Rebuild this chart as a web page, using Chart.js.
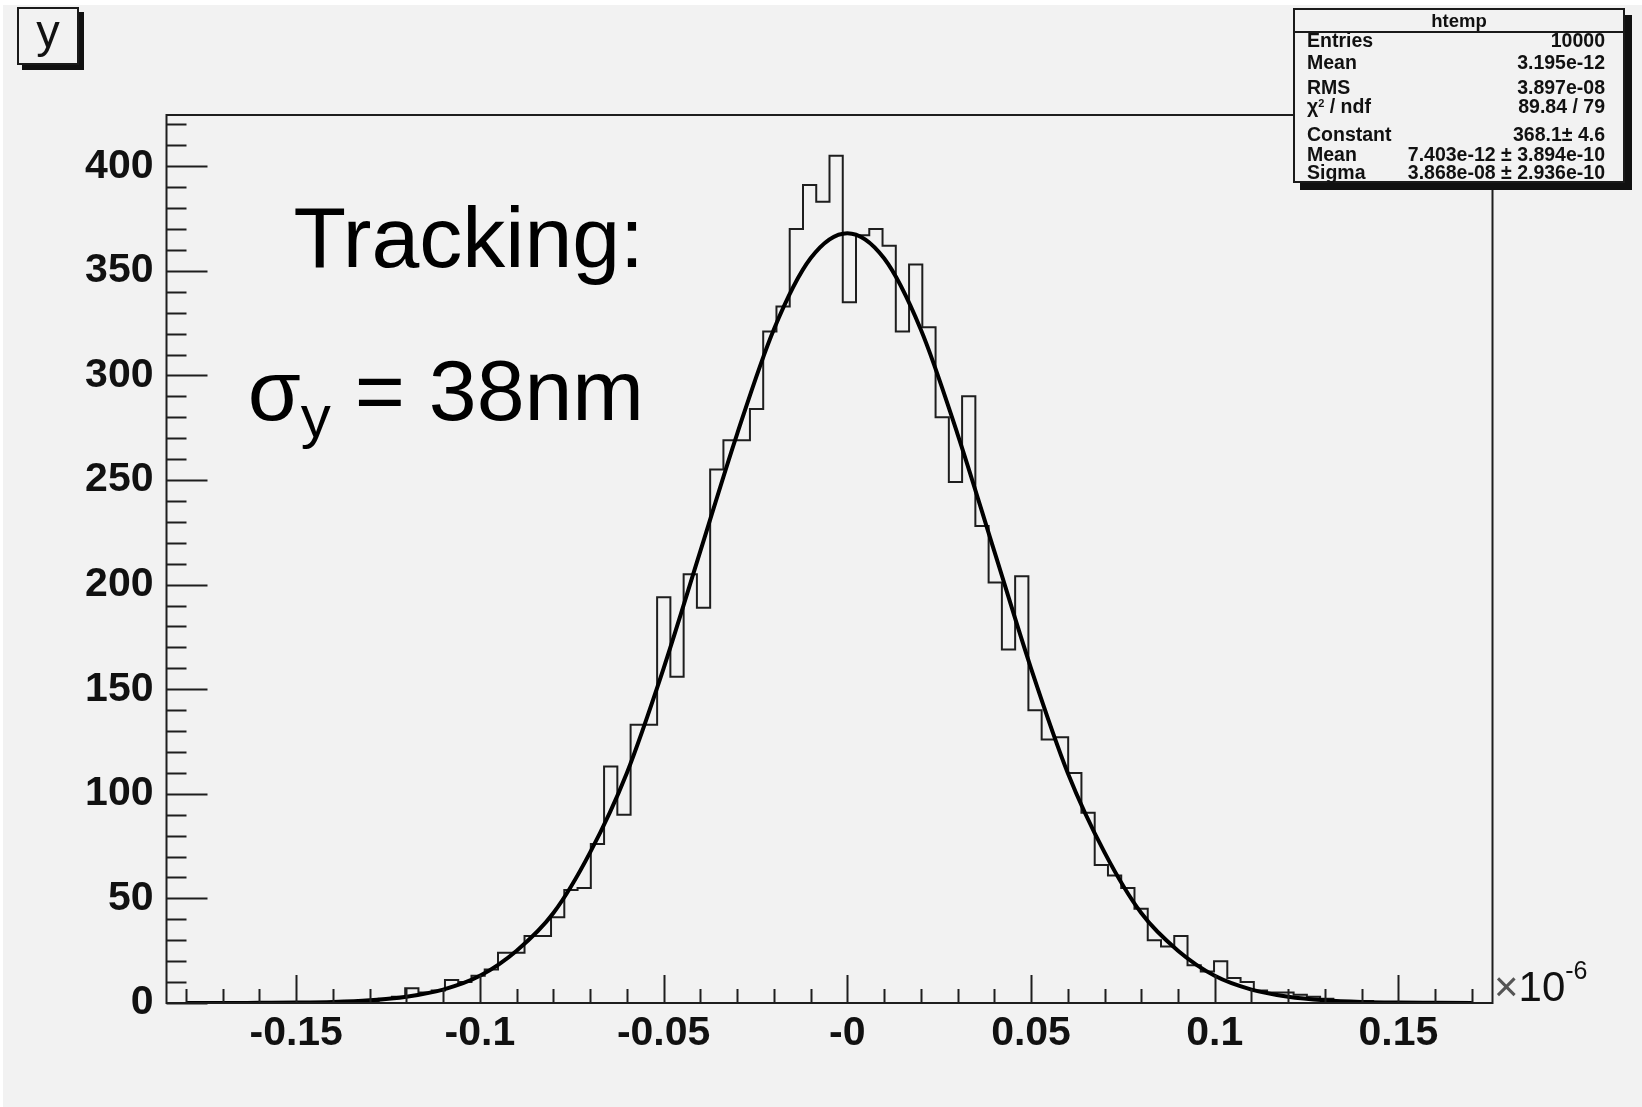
<!DOCTYPE html>
<html lang="en">
<head>
    <meta charset="UTF-8">
    <title>htemp - Tracking sigma_y</title>
    <style>
        body {
            margin: 0;
            background: #ffffff;
            font-family: 'Liberation Sans', Arial, sans-serif;
        }

        #wrap {
            position: relative;
            width: 1642px;
            height: 1107px;
            overflow: hidden;
        }

        #plot {
            position: absolute;
            left: 0;
            top: 0;
        }

        .ybox {
            position: absolute;
            left: 17px;
            top: 7px;
            width: 62px;
            height: 58px;
            box-sizing: border-box;
            border: 2px solid #1a1a1a;
            background: #f2f2f2;
            box-shadow: 5px 5px 0 #111;
            font-size: 47px;
            line-height: 44px;
            text-align: center;
            color: #111;
        }

        .stats {
            position: absolute;
            left: 1293px;
            top: 8px;
            width: 332px;
            height: 175px;
            box-sizing: border-box;
            border: 2px solid #1a1a1a;
            background: #f2f2f2;
            box-shadow: 7px 7px 0 #111;
            color: #111;
            font-weight: bold;
            font-size: 19.5px;
        }

        .stats .title {
            position: absolute;
            left: 0;
            right: 0;
            top: 0;
            height: 21px;
            line-height: 21px;
            border-bottom: 2px solid #1a1a1a;
            text-align: center;
            font-size: 18.5px;
        }

        .stats .row {
            position: absolute;
            left: 12px;
            right: 18px;
            height: 20px;
            line-height: 20px;
        }

        .stats .row .val {
            position: absolute;
            right: 0;
            top: 0;
            white-space: nowrap;
        }

        .stats sup {
            font-size: 11px;
            vertical-align: 6px;
            line-height: 0;
        }

        .note {
            position: absolute;
            right: 998px;
            font-size: 86px;
            line-height: 86px;
            color: #000;
            white-space: nowrap;
        }

        .note .sub {
            font-size: 60px;
            position: relative;
            top: 17px;
            line-height: 0;
        }

        .expo {
            position: absolute;
            left: 1494px;
            top: 966px;
            font-size: 42px;
            line-height: 42px;
            color: #111;
            white-space: nowrap;
        }

        .expo .times {
            color: #555;
        }

        .expo sup {
            font-size: 25px;
            position: relative;
            top: -22px;
            vertical-align: baseline;
            line-height: 0;
        }
    </style>
</head>
<body>
    <div id="wrap">
        <canvas id="plot" width="1642" height="1107"></canvas>

        <div class="ybox">y</div>

        <div class="stats">
            <div class="title">htemp</div>
            <div class="row" style="top: 20px;">Entries<span class="val">10000</span></div>
            <div class="row" style="top: 42px;">Mean<span class="val">3.195e-12</span></div>
            <div class="row" style="top: 67px;">RMS<span class="val">3.897e-08</span></div>
            <div class="row" style="top: 86px;">&chi;<sup>2</sup> / ndf<span class="val">89.84 / 79</span></div>
            <div class="row" style="top: 114px;">Constant<span class="val">368.1&plusmn; 4.6</span></div>
            <div class="row" style="top: 134px;">Mean<span class="val">7.403e-12 &plusmn; 3.894e-10</span></div>
            <div class="row" style="top: 152px;">Sigma<span class="val">3.868e-08 &plusmn; 2.936e-10</span></div>
        </div>

        <div class="note" style="top: 194px;">Tracking:</div>
        <div class="note" style="top: 347px;">&sigma;<span class="sub">y</span> = 38nm</div>

        <div class="expo"><span class="times">&times;</span>10<sup>-6</sup></div>
    </div>

    <script src="https://cdn.jsdelivr.net/npm/chart.js"></script>
    <script>
        // histogram range (units of 1e-6), 100 bins
        const xMin = -0.1853;
        const xMax = 0.1756;
        const yMax = 424.5;

        // bin contents (left to right)
        const binCounts = [
            0, 0, 0, 0, 0, 0, 0, 0, 0, 0,
            0, 0, 0, 1, 1, 1, 2, 3, 7, 5,
            6, 11, 10, 13, 16, 24, 24, 32, 32, 41,
            54, 55, 76, 113, 90, 133, 133, 194, 156, 205,
            189, 255, 269, 269, 284, 321, 333, 370, 391, 383,
            405, 335, 367, 370, 362, 321, 353, 323, 280, 249,
            290, 228, 201, 169, 204, 140, 126, 127, 110, 91,
            66, 61, 55, 45, 30, 27, 32, 18, 15, 20,
            12, 10, 6, 5, 5, 4, 3, 2, 1, 1,
            1, 0, 0, 0, 0, 0, 0, 0, 0, 0
        ];

        // gaussian fit curve
        const fitX = [
            -0.18, -0.17, -0.16, -0.15, -0.14, -0.13, -0.12, -0.11, -0.10, -0.09,
            -0.08, -0.07, -0.06, -0.05, -0.04, -0.03, -0.02, -0.01, 0,
            0.01, 0.02, 0.03, 0.04, 0.05, 0.06, 0.07, 0.08, 0.09, 0.10,
            0.11, 0.12, 0.13, 0.14, 0.15, 0.16, 0.17
        ];
        const fitY = [
            0, 0, 0.1, 0.2, 0.5, 1.3, 3.0, 6.4, 13, 25,
            43, 72, 110, 160, 216, 272, 322, 356, 368,
            356, 322, 272, 216, 160, 110, 72, 43, 25, 13,
            6.4, 3.0, 1.3, 0.5, 0.2, 0.1, 0
        ];

        const xTickValues = [-0.15, -0.1, -0.05, 0, 0.05, 0.1, 0.15];
        const xTickLabels = ['-0.15', '-0.1', '-0.05', '-0', '0.05', '0.1', '0.15'];
        const yTickValues = [0, 50, 100, 150, 200, 250, 300, 350, 400];

        const binWidth = (xMax - xMin) / binCounts.length;
        const histPoints = binCounts.map((c, k) => ({ x: xMin + k * binWidth, y: c }));
        histPoints.push({ x: xMax, y: 0 });
        const fitPoints = fitX.map((x, i) => ({ x: x, y: fitY[i] }));

        const labelFont = { family: "'Liberation Sans', Arial, sans-serif", size: 41, weight: 'bold' };

        // ROOT style: grey pad, frame, inward ticks
        const rootFrame = {
            id: 'rootFrame',
            beforeDraw(chart) {
                const ctx = chart.ctx;
                ctx.save();
                ctx.fillStyle = '#ffffff';
                ctx.fillRect(0, 0, chart.width, chart.height);
                ctx.fillStyle = '#f2f2f2';
                ctx.fillRect(3, 5, chart.width - 3, chart.height - 5);
                ctx.restore();
            },
            afterDraw(chart) {
                const { ctx, chartArea: a, scales } = chart;
                const x = scales.x, y = scales.y;
                ctx.save();
                ctx.strokeStyle = '#1e1e1e';
                ctx.lineWidth = 2;
                ctx.strokeRect(a.left, a.top, a.right - a.left, a.bottom - a.top);

                ctx.beginPath();
                // y ticks every 10, long every 50
                for (let i = 0; i * 10 <= yMax; i++) {
                    const py = Math.round(y.getPixelForValue(i * 10)) + 0.5;
                    const len = i % 5 === 0 ? 41 : 20;
                    ctx.moveTo(a.left, py);
                    ctx.lineTo(a.left + len, py);
                }
                // x ticks every 0.01, long every 0.05
                for (let i = -18; i <= 17; i++) {
                    const px = Math.round(x.getPixelForValue(i / 100)) + 0.5;
                    const len = i % 5 === 0 ? 28 : 14;
                    ctx.moveTo(px, a.bottom);
                    ctx.lineTo(px, a.bottom - len);
                }
                ctx.stroke();
                ctx.restore();
            }
        };

        new Chart(document.getElementById('plot'), {
            type: 'line',
            data: {
                datasets: [
                    {
                        label: 'fit',
                        data: fitPoints,
                        borderColor: '#000000',
                        borderWidth: 4,
                        pointRadius: 0,
                        fill: false,
                        cubicInterpolationMode: 'monotone'
                    },
                    {
                        label: 'htemp',
                        data: histPoints,
                        borderColor: '#1e1e1e',
                        borderWidth: 2,
                        pointRadius: 0,
                        fill: false,
                        stepped: 'before'
                    }
                ]
            },
            options: {
                responsive: false,
                devicePixelRatio: 1,
                animation: false,
                layout: { padding: { left: 0, top: 115, right: 149.5, bottom: 0 } },
                plugins: {
                    legend: { display: false },
                    tooltip: { enabled: false }
                },
                scales: {
                    x: {
                        type: 'linear',
                        min: xMin,
                        max: xMax,
                        border: { display: false },
                        grid: { display: false, drawTicks: false },
                        afterFit: s => { s.height = 104; },
                        afterBuildTicks: s => { s.ticks = xTickValues.map(v => ({ value: v })); },
                        ticks: {
                            autoSkip: false,
                            maxRotation: 0,
                            padding: 6,
                            color: '#111',
                            font: labelFont,
                            callback: (value, index) => xTickLabels[index]
                        }
                    },
                    y: {
                        type: 'linear',
                        min: 0,
                        max: yMax,
                        border: { display: false },
                        grid: { display: false, drawTicks: false },
                        afterFit: s => { s.width = 166.5; },
                        afterBuildTicks: s => { s.ticks = yTickValues.map(v => ({ value: v })); },
                        ticks: {
                            padding: 13,
                            color: '#111',
                            font: labelFont,
                            callback: value => String(value)
                        }
                    }
                }
            },
            plugins: [rootFrame]
        });
    </script>
</body>
</html>
